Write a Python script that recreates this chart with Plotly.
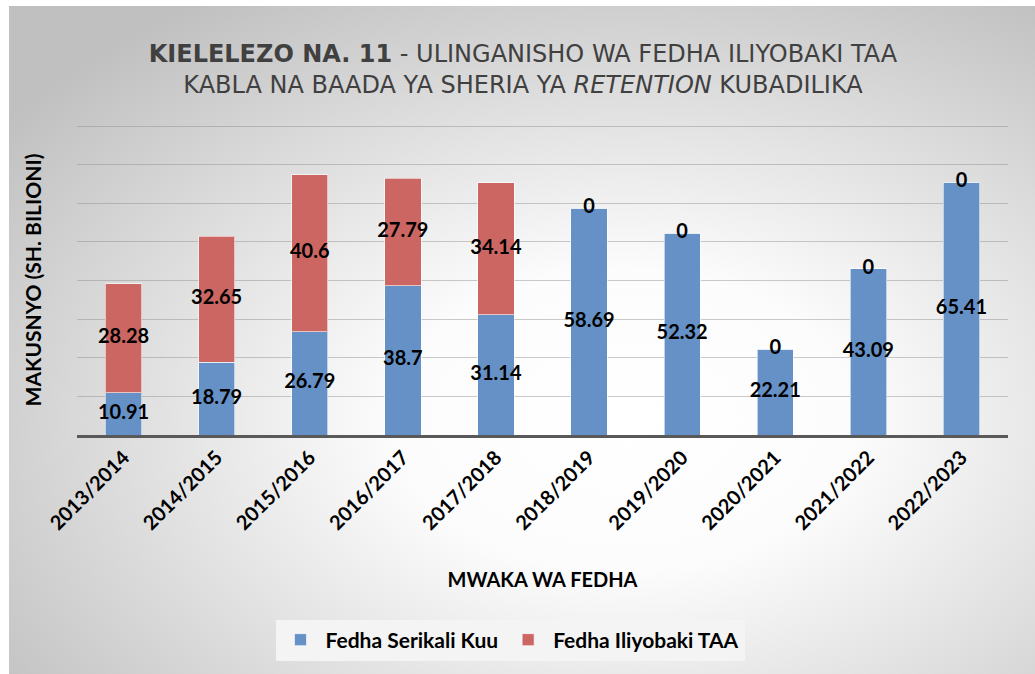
import base64
import plotly.graph_objects as go

# ---- data ----
years = ["2013/2014", "2014/2015", "2015/2016", "2016/2017", "2017/2018",
         "2018/2019", "2019/2020", "2020/2021", "2021/2022", "2022/2023"]
serikali_kuu = [10.91, 18.79, 26.79, 38.7, 31.14, 58.69, 52.32, 22.21, 43.09, 65.41]
iliyobaki_taa = [28.28, 32.65, 40.6, 27.79, 34.14, 0, 0, 0, 0, 0]
series_names = ["Fedha Serikali Kuu", "Fedha Iliyobaki TAA"]
label_serikali = ["10.91", "18.79", "26.79", "38.7", "31.14", "58.69", "52.32", "22.21", "43.09", "65.41"]
label_taa = ["28.28", "32.65", "40.6", "27.79", "34.14", "0", "0", "0", "0", "0"]

W, H = 1035, 674
ML, MR, MT, MB = 77, 27, 125, 239
PW, PH = W - ML - MR, H - MT - MB

BLUE = "#6591C7"
RED = "#CB6663"
FONT = "Lato, 'Open Sans', sans-serif"
LABEL_FONT = dict(family=FONT, size=20, color="#000000")

fig = go.Figure()
fig.add_trace(go.Bar(
    x=years, y=serikali_kuu, name="<b>" + series_names[0] + "</b>",
    marker=dict(color=BLUE, line=dict(color="rgba(255,255,255,0.6)", width=1)),
    hoverinfo="x+y",
))
fig.add_trace(go.Bar(
    x=years, y=iliyobaki_taa, name="<b>" + series_names[1] + "</b>",
    marker=dict(color=RED, line=dict(color="rgba(255,255,255,0.6)", width=1)),
    hoverinfo="x+y",
))

# data labels centred in each segment
blue_mid = [v / 2 for v in serikali_kuu]
red_mid = [b + r / 2 for b, r in zip(serikali_kuu, iliyobaki_taa)]
fig.add_trace(go.Scatter(
    x=years, y=blue_mid, mode="text", text=[f"<b>{t}</b>" for t in label_serikali],
    textfont=LABEL_FONT, showlegend=False, hoverinfo="skip"))
fig.add_trace(go.Scatter(
    x=years, y=red_mid, mode="text", text=[f"<b>{t}</b>" for t in label_taa],
    textfont=LABEL_FONT, showlegend=False, hoverinfo="skip"))

# background radial gradient frame
svg = (
    "<svg xmlns='http://www.w3.org/2000/svg' width='1026' height='668' viewBox='0 0 1026 668' "
    "preserveAspectRatio='none'><defs><radialGradient id='g' cx='0.6' cy='0.62' r='0.75'>"
    "<stop offset='0' stop-color='#ffffff'/><stop offset='0.3' stop-color='#fcfcfc'/>"
    "<stop offset='1' stop-color='#c0c0c0'/></radialGradient></defs>"
    "<rect width='1026' height='668' fill='url(#g)'/></svg>"
)
src = "data:image/svg+xml;base64," + base64.b64encode(svg.encode()).decode()
fx0, fy0 = 9, 6
fig.add_layout_image(dict(
    source=src, xref="paper", yref="paper",
    x=(fx0 - ML) / PW, y=(H - MB - fy0) / PH,
    sizex=(W - fx0) / PW, sizey=(H - fy0) / PH,
    xanchor="left", yanchor="top", sizing="stretch", layer="below",
))

fig.update_layout(
    width=W, height=H,
    margin=dict(l=ML, r=MR, t=MT, b=MB, autoexpand=False),
    paper_bgcolor="#ffffff",
    plot_bgcolor="rgba(0,0,0,0)",
    barmode="stack",
    bargap=0.61,
    title=dict(
        text="<b>KIELELEZO NA. 11</b> - ULINGANISHO WA FEDHA ILIYOBAKI TAA<br>"
             "KABLA NA BAADA YA SHERIA YA <i>RETENTION</i> KUBADILIKA",
        x=523 / W, xanchor="center", xref="container",
        y=1 - 62 / H, yanchor="middle", yref="container",
        font=dict(family="'DejaVu Sans', sans-serif", size=24, color="#404040"),
    ),
    xaxis=dict(
        type="category",
        tickmode="array", tickvals=years, ticktext=[f"<b>{y}</b>" for y in years],
        tickangle=-45,
        tickfont=dict(family=FONT, size=20, color="#000000"),
        showline=True, linecolor="#595959", linewidth=3,
        showgrid=False, ticks="", automargin=False,
        title=dict(text="<b>MWAKA WA FEDHA</b>",
                   font=dict(family=FONT, size=20, color="#000000"),
                   standoff=40),
    ),
    yaxis=dict(
        range=[0, 80.3], tickmode="linear", tick0=0, dtick=10, showticklabels=False,
        showgrid=True, gridcolor="rgba(140,140,140,0.45)", gridwidth=1,
        zeroline=False, ticks="", automargin=False,
        title=dict(text="<b>MAKUSNYO (SH. BILIONI)</b>",
                   font=dict(family=FONT, size=21, color="#000000"),
                   standoff=28),
    ),
    legend=dict(
        orientation="h", x=510 / W, xanchor="center", xref="container",
        y=1 - 640 / H, yanchor="middle", yref="container",
        bgcolor="#f4f4f4", traceorder="normal",
        font=dict(family=FONT, size=21, color="#000000"),
        itemwidth=40,
    ),
    showlegend=True,
)

fig.write_html("out.html", config={"displayModeBar": False},
               post_script="document.body.style.margin='0';")
